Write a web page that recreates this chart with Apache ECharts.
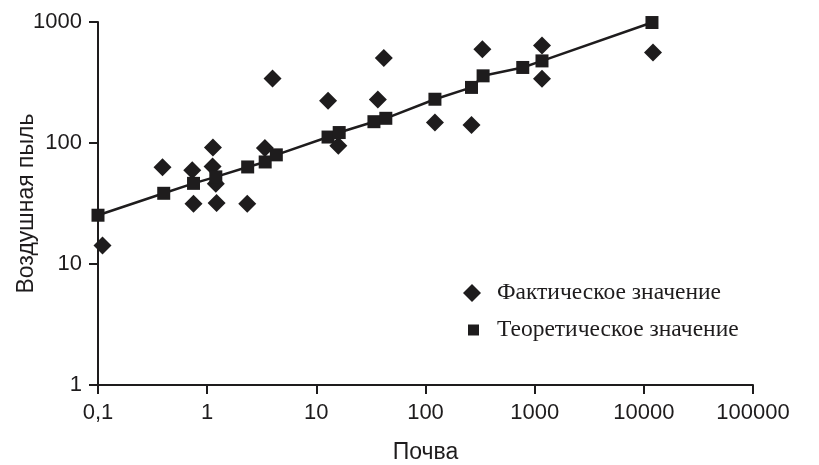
<!DOCTYPE html>
<html>
<head>
<meta charset="UTF-8">
<title>Почва / Воздушная пыль</title>
<style type="text/css">
  body{margin:0;padding:0;background:#fff;}
  #chart{width:819px;height:465px;}
</style>
</head>
<body>
<div id="chart"></div>
<script src="https://cdn.jsdelivr.net/npm/echarts@6/dist/echarts.min.js"></script>
<script>
// фактические значения (почва, воздушная пыль)
var factSoil = [0.11, 0.39, 0.73, 0.75, 1.13, 1.12, 1.2, 1.22, 2.33, 3.38, 3.97, 12.8, 15.9, 36.6, 41.5, 122, 264, 332, 1167, 1167, 12140];
var factDust = [14.2, 63, 59.5, 31.5, 92, 64, 46, 32, 31.5, 91, 342, 223, 95, 229, 505, 148, 141, 595, 640, 340, 560];

// теоретические значения (лежат на линии)
var theorSoil = [0.1, 0.4, 0.75, 1.2, 2.35, 3.4, 4.3, 12.8, 16.2, 33.7, 43.3, 122, 264, 337, 778, 1167, 11870];
var theorDust = [25.3, 38.4, 46.4, 52.5, 63.4, 69.7, 79.8, 112, 122, 150, 160, 230, 288, 359, 421, 477, 990];

var xTickLabels = ['0,1', '1', '10', '100', '1000', '10000', '100000'];
var yTickLabels = ['1', '10', '100', '1000'];

var ink = '#1e1c1d';

function pairs(xs, ys){
  var out = [];
  for(var i=0;i<xs.length;i++){ out.push([xs[i], ys[i]]); }
  return out;
}

var chart = echarts.init(document.getElementById('chart'));
chart.setOption({
  animation: false,
  grid: {left: 98, right: 66, top: 22, bottom: 80, outerBoundsMode: 'none', containLabel: false},
  legend: [
    {
      data: [{name: 'Фактическое значение', icon: 'diamond'}],
      left: 458, top: 276, itemWidth: 18, itemHeight: 18,
      textStyle: {fontFamily: 'Liberation Serif', fontSize: 23.5, color: ink, padding: [0, 0, 0, 11]}
    },
    {
      data: [{name: 'Теоретическое значение', icon: 'rect'}],
      left: 463, top: 313, itemWidth: 11, itemHeight: 11,
      textStyle: {fontFamily: 'Liberation Serif', fontSize: 23.5, color: ink, padding: [0, 0, 0, 13]}
    }
  ],
  xAxis: {
    type: 'log', logBase: 10, min: 0.1, max: 100000,
    name: 'Почва', nameLocation: 'middle', nameGap: 56, nameMoveOverlap: false,
    nameTextStyle: {fontFamily: 'Liberation Sans', fontSize: 23, color: ink},
    axisLine: {lineStyle: {color: ink, width: 2}},
    axisTick: {length: 9, lineStyle: {color: ink, width: 2}},
    axisLabel: {
      margin: 17, fontFamily: 'Liberation Sans', fontSize: 22, color: ink,
      formatter: function(v){ return xTickLabels[Math.round(Math.log10(v)) + 1]; }
    },
    splitLine: {show: false}, minorTick: {show: false}
  },
  yAxis: {
    type: 'log', logBase: 10, min: 1, max: 1000,
    name: 'Воздушная пыль', nameLocation: 'middle', nameGap: 60, nameMoveOverlap: false,
    nameTextStyle: {fontFamily: 'Liberation Sans', fontSize: 23, color: ink},
    axisLine: {show: true, lineStyle: {color: ink, width: 2}},
    axisTick: {show: true, length: 9, lineStyle: {color: ink, width: 2}},
    axisLabel: {
      margin: 16, fontFamily: 'Liberation Sans', fontSize: 22, color: ink,
      formatter: function(v){ return yTickLabels[Math.round(Math.log10(v))]; }
    },
    splitLine: {show: false}
  },
  series: [
    {
      name: 'trend', type: 'line', data: pairs(theorSoil, theorDust),
      showSymbol: false, clip: false, silent: true, z: 1,
      lineStyle: {color: ink, width: 2.5}
    },
    {
      name: 'Теоретическое значение', type: 'scatter', data: pairs(theorSoil, theorDust),
      symbol: 'rect', symbolSize: 13, clip: false, z: 3,
      itemStyle: {color: ink, opacity: 1}
    },
    {
      name: 'Фактическое значение', type: 'scatter', data: pairs(factSoil, factDust),
      symbol: 'diamond', symbolSize: 18, clip: false, z: 2,
      itemStyle: {color: ink, opacity: 1}
    }
  ]
});
</script>
</body>
</html>
